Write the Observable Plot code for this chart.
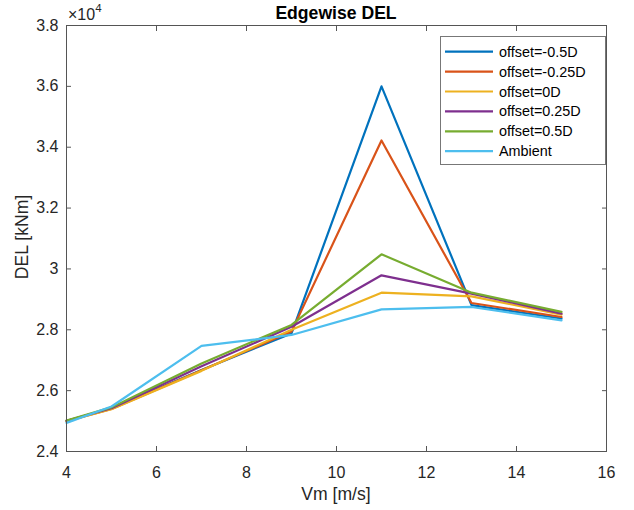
<!DOCTYPE html>
<html>
<head>
<meta charset="utf-8">
<script src="https://cdn.jsdelivr.net/npm/d3@7"></script>
<script src="https://cdn.jsdelivr.net/npm/@observablehq/plot@0.6"></script>
<style>
  html, body { margin: 0; padding: 0; background: #fff; }
  svg { font-family: "Liberation Sans", Arial, Helvetica, sans-serif; }
</style>
</head>
<body>
<div id="chart"></div>
<script>
// ---- data ----
const vm = [4, 5, 7, 9, 11, 13, 15];
const seriesNames = ["offset=-0.5D", "offset=-0.25D", "offset=0D", "offset=0.25D", "offset=0.5D", "Ambient"];
const seriesColors = ["#0072BD", "#D95319", "#EDB120", "#7E2F8E", "#77AC30", "#4DBEEE"];
const offsetM050 = [2.500, 2.542, 2.668, 2.788, 3.600, 2.881, 2.837];
const offsetM025 = [2.500, 2.540, 2.667, 2.794, 3.422, 2.888, 2.842];
const offset000  = [2.500, 2.539, 2.665, 2.800, 2.922, 2.910, 2.850];
const offset025  = [2.501, 2.542, 2.680, 2.810, 2.979, 2.919, 2.853];
const offset050  = [2.502, 2.545, 2.689, 2.816, 3.048, 2.922, 2.859];
const ambient    = [2.494, 2.548, 2.747, 2.783, 2.867, 2.875, 2.831];
const xTicks = [4, 6, 8, 10, 12, 14, 16];
const yTicks = [2.4, 2.6, 2.8, 3.0, 3.2, 3.4, 3.6, 3.8];
const title = "Edgewise DEL";
const xLabel = "Vm [m/s]";
const yLabel = "DEL [kNm]";

const allSeries = [offsetM050, offsetM025, offset000, offset025, offset050, ambient];
const rows = allSeries.map((vals, i) => vm.map((v, j) => ({x: v, y: vals[j], s: seriesNames[i]})));

const axisColor = "#262626";
const W = 634, H = 510;

const plot = Plot.plot({
  width: W,
  height: H,
  marginLeft: 66,
  marginRight: 28,
  marginTop: 25,
  marginBottom: 59,
  style: {fontSize: "16px", color: axisColor, fontFamily: "'Liberation Sans', Arial, sans-serif", background: "#fff"},
  x: {domain: [4, 16]},
  y: {domain: [2.4, 3.8]},
  marks: [
    ...rows.map((r, i) => Plot.line(r, {x: "x", y: "y", stroke: seriesColors[i], strokeWidth: 2.2})),
    Plot.frame({stroke: "#555", strokeWidth: 1}),
    Plot.axisX(xTicks, {anchor: "bottom", tickSize: -5, tickPadding: 20, label: null, stroke: "#555", fill: axisColor, tickFormat: d => String(d)}),
    Plot.axisX(xTicks, {anchor: "top", tickSize: -5, label: null, stroke: "#555", tickFormat: () => ""}),
    Plot.axisY(yTicks, {anchor: "left", tickSize: -5, tickPadding: 13, label: null, stroke: "#555", fill: axisColor, tickFormat: d => d === 3 ? "3" : d.toFixed(1)}),
    Plot.axisY(yTicks, {anchor: "right", tickSize: -5, label: null, stroke: "#555", tickFormat: () => ""})
  ]
});

document.getElementById("chart").appendChild(plot);

const svg = d3.select(plot);
const cx = (66 + (W - 28)) / 2;

// title
svg.append("text").attr("x", cx).attr("y", 18.5).attr("text-anchor", "middle")
  .attr("font-size", 17.6).attr("font-weight", "bold").attr("fill", "#000").text(title);
// x label
svg.append("text").attr("x", cx).attr("y", 500).attr("text-anchor", "middle")
  .attr("font-size", 17.6).attr("fill", axisColor).text(xLabel);
// y label
svg.append("text").attr("transform", `translate(28,237) rotate(-90)`).attr("text-anchor", "middle")
  .attr("font-size", 17.6).attr("fill", axisColor).text(yLabel);
// exponent
const ex = svg.append("text").attr("x", 68).attr("y", 20).attr("text-anchor", "start")
  .attr("font-size", 16).attr("fill", axisColor);
ex.append("tspan").text("\u00d710");
ex.append("tspan").attr("dy", -8).attr("font-size", 11.5).text("4");

// legend
const lg = svg.append("g");
lg.append("rect").attr("x", 440.5).attr("y", 36.5).attr("width", 165).attr("height", 128)
  .attr("fill", "#fff").attr("stroke", "#777").attr("stroke-width", 1);
seriesNames.forEach((name, i) => {
  const yy = 51.7 + i * 19.9;
  lg.append("line").attr("x1", 445).attr("x2", 493).attr("y1", yy).attr("y2", yy)
    .attr("stroke", seriesColors[i]).attr("stroke-width", 2.2);
  lg.append("text").attr("x", 499).attr("y", yy).attr("dy", "0.35em").attr("text-anchor", "start")
    .attr("font-size", 14.4).attr("fill", "#000").text(name);
});
</script>
</body>
</html>
